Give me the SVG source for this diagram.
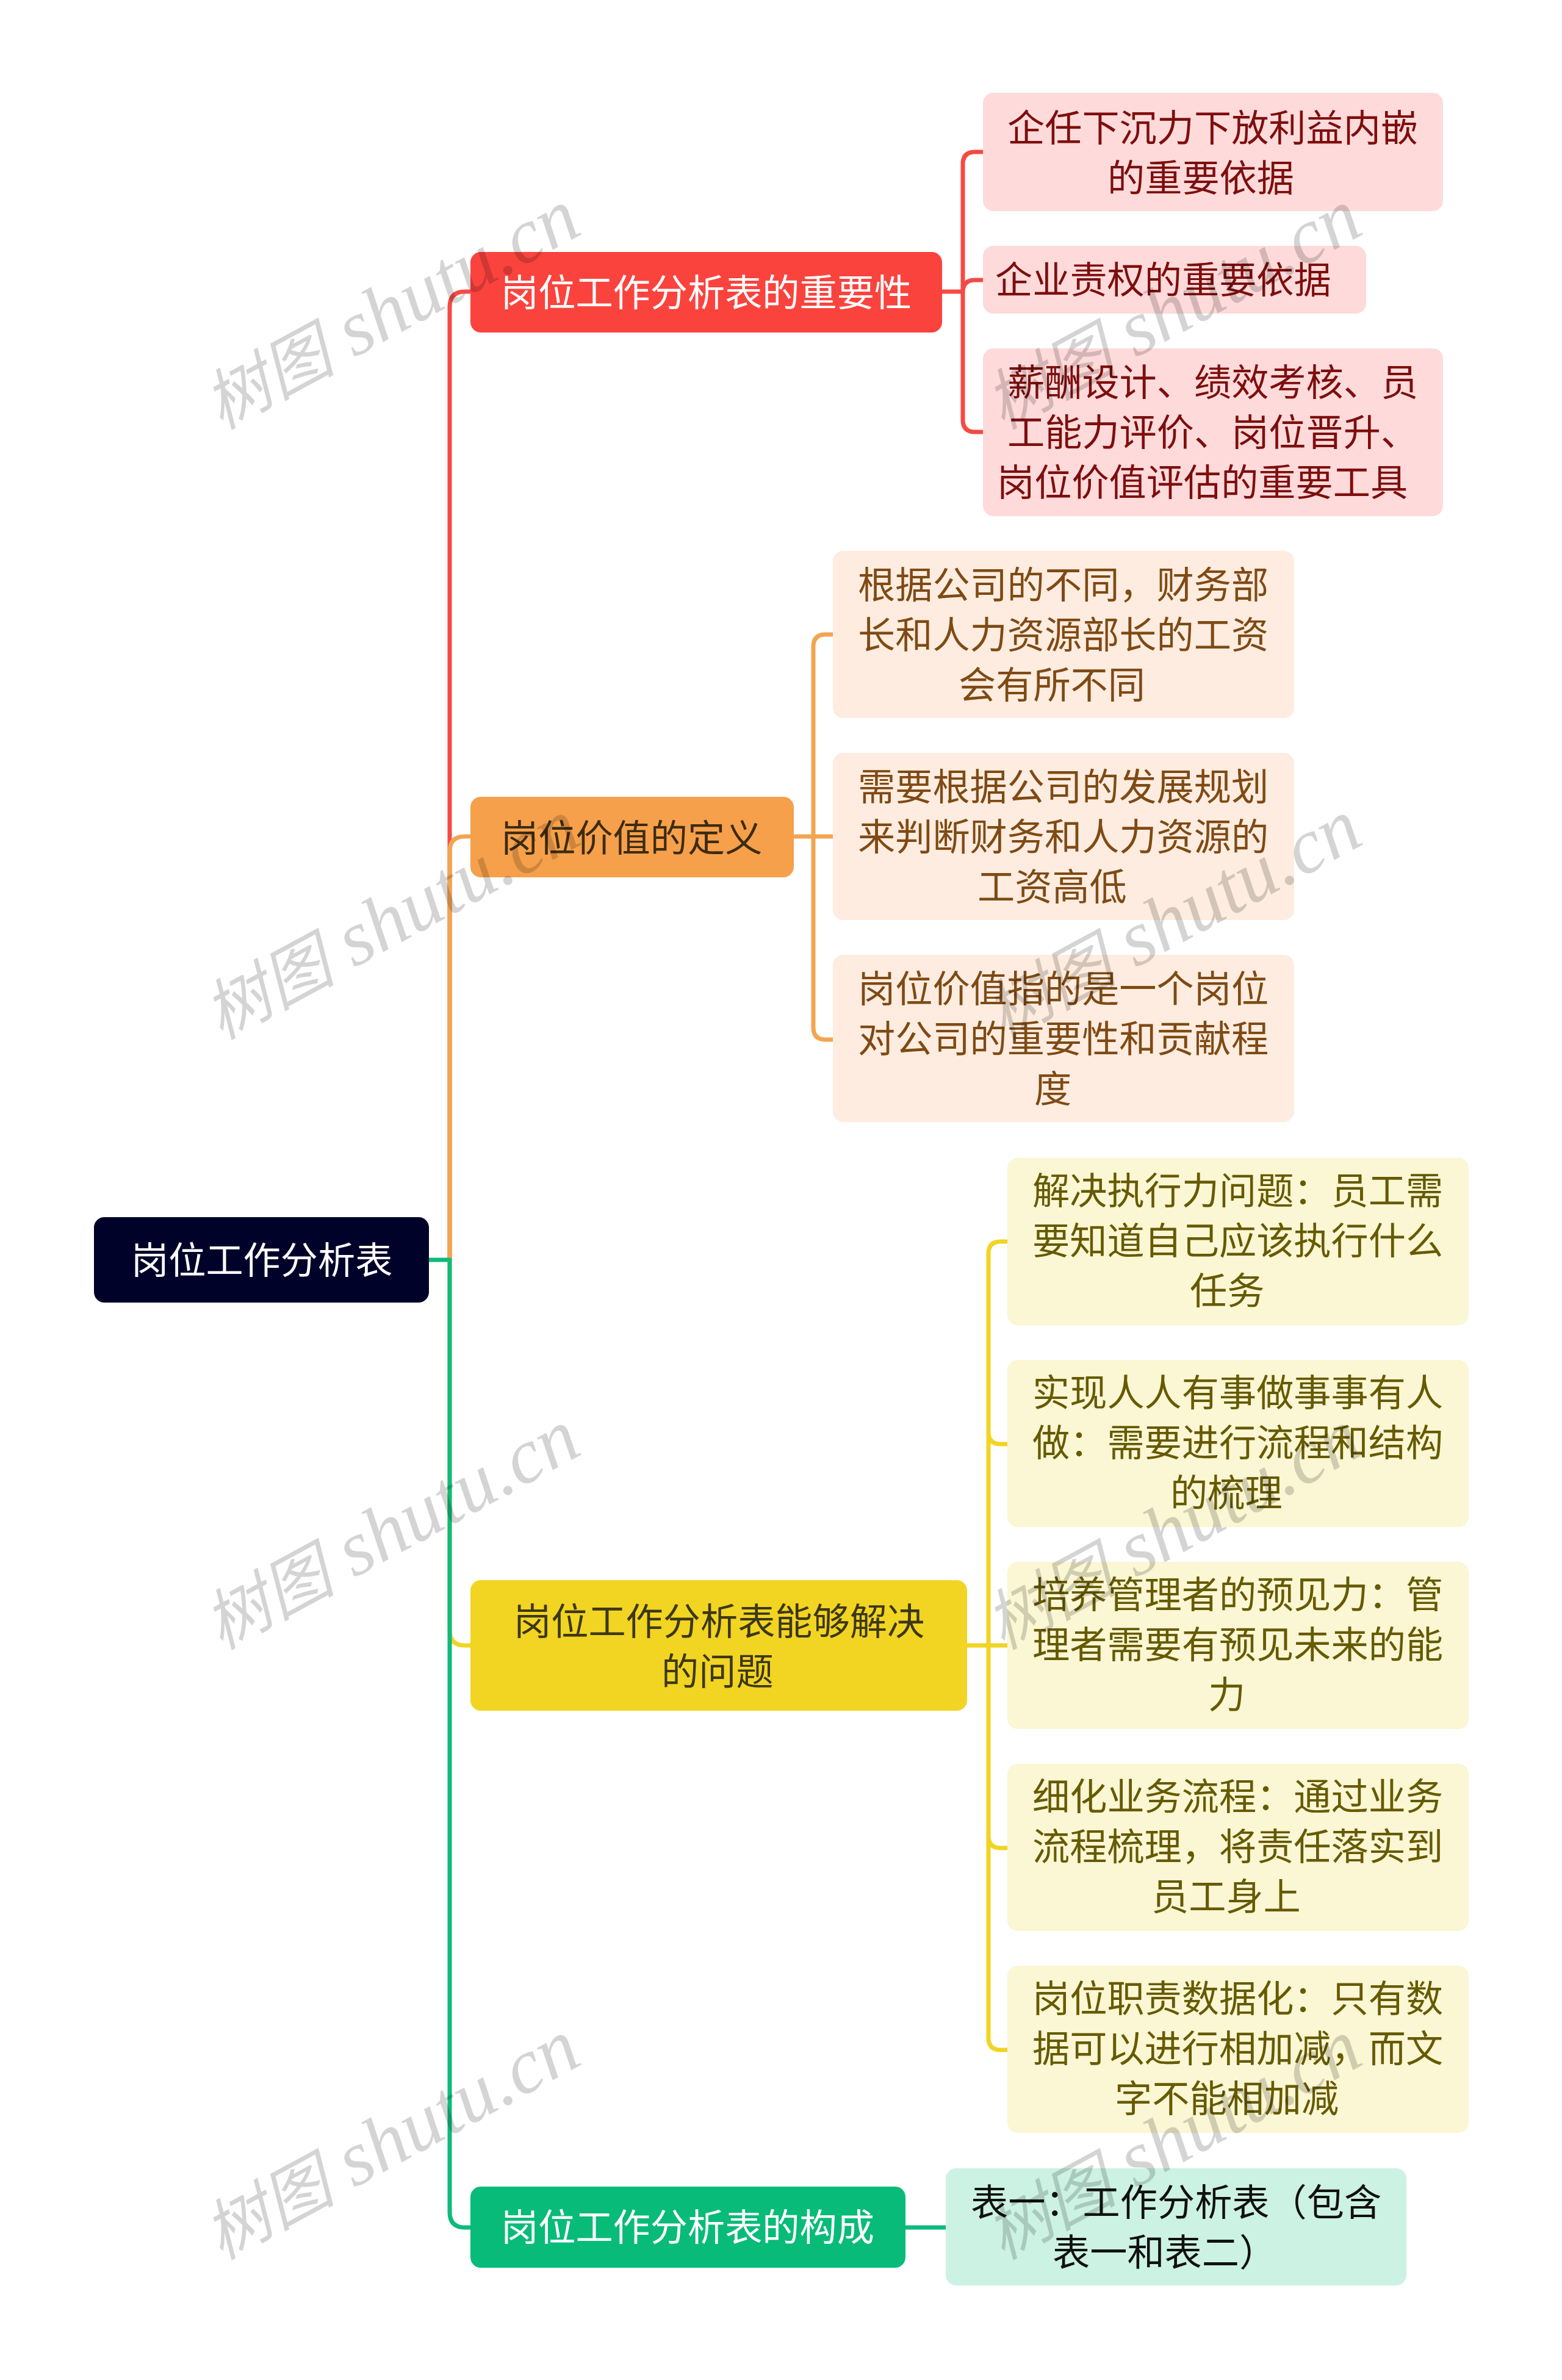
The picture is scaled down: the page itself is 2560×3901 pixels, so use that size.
<svg xmlns="http://www.w3.org/2000/svg" width="2560" height="3901" viewBox="0 0 2560 3901">
<defs>
<style>
text{font-family:"Noto Sans CJK SC","Liberation Sans",sans-serif;font-size:61.2px}
.c{fill:none;stroke-width:7;stroke-linejoin:round}
.r{stroke:#f74a45}.o{stroke:#f2a550}.y{stroke:#f2d422}.g{stroke:#0eba7c}
.wm text{font-family:"Liberation Serif","Noto Sans CJK SC",serif;font-style:italic;font-size:128px;fill:#000;fill-opacity:.17}
.wm tspan{font-size:108px}
</style>
</defs>
<rect width="2560" height="3901" fill="#fff"/>
<g id="connectors">
<path class="c r" d="M737 2065V503Q737 478 762 478H771"/>
<path class="c o" d="M737 2065V1396Q737 1371 762 1371H771"/>
<path class="c y" d="M737 2065V2672Q737 2697 762 2697H771"/>
<path class="c g" d="M703 2065H737V3626Q737 3651 762 3651H771"/>
<path class="c r" d="M1544 478H1578M1611 249H1598Q1578 249 1578 269V688Q1578 708 1598 708H1611M1578 479Q1578 459 1598 459H1611"/>
<path class="c o" d="M1301 1371H1365M1365 1040H1353Q1333 1040 1333 1060V1684Q1333 1704 1353 1704H1365"/>
<path class="c y" d="M1585 2697H1651M1651 2035H1640Q1620 2035 1620 2055V3340Q1620 3360 1640 3360H1651M1620 2347Q1620 2367 1640 2367H1651M1620 3009Q1620 3029 1640 3029H1651"/>
<path class="c g" d="M1484 3651H1550"/>
</g>
<g id="root"><rect x="154" y="1995" width="549" height="140" rx="17" fill="#000229"/><text x="215" y="2088" fill="#fff">岗位工作分析表</text></g>
<g id="n1"><rect x="771" y="413" width="773" height="132" rx="17" fill="#fb433e"/><text x="821" y="502" fill="#fff">岗位工作分析表的重要性</text></g>
<g id="n1a"><rect x="1611" y="152" width="754" height="194" rx="17" fill="#fedada"/><text fill="#7e0e0e"><tspan x="1651" y="232">企任下沉力下放利益内嵌</tspan><tspan x="1815" y="314">的重要依据</tspan></text></g>
<g id="n1b"><rect x="1611" y="403" width="628" height="111" rx="17" fill="#fedada"/><text x="1631" y="481" fill="#7e0e0e">企业责权的重要依据</text></g>
<g id="n1c"><rect x="1611" y="571" width="754" height="275" rx="17" fill="#fedada"/><text fill="#7e0e0e"><tspan x="1651" y="649">薪酬设计、绩效考核、员</tspan><tspan x="1651" y="731">工能力评价、岗位晋升、</tspan><tspan x="1634" y="813">岗位价值评估的重要工具</tspan></text></g>
<g id="n2"><rect x="771" y="1306" width="530" height="132" rx="17" fill="#f7a04b"/><text x="821" y="1396" fill="#3d2c10">岗位价值的定义</text></g>
<g id="n2a"><rect x="1365" y="903" width="756" height="274" rx="17" fill="#fdecdf"/><text fill="#7f4a14"><tspan x="1406" y="981">根据公司的不同，财务部</tspan><tspan x="1406" y="1063">长和人力资源部长的工资</tspan><tspan x="1571" y="1145">会有所不同</tspan></text></g>
<g id="n2b"><rect x="1365" y="1234" width="756" height="274" rx="17" fill="#fdecdf"/><text fill="#7f4a14"><tspan x="1406" y="1312">需要根据公司的发展规划</tspan><tspan x="1406" y="1394">来判断财务和人力资源的</tspan><tspan x="1602" y="1476">工资高低</tspan></text></g>
<g id="n2c"><rect x="1365" y="1565" width="756" height="274" rx="17" fill="#fdecdf"/><text fill="#7f4a14"><tspan x="1406" y="1643">岗位价值指的是一个岗位</tspan><tspan x="1406" y="1725">对公司的重要性和贡献程</tspan><tspan x="1695" y="1807">度</tspan></text></g>
<g id="n3"><rect x="771" y="2590" width="814" height="214" rx="17" fill="#f2d422"/><text fill="#3c3816"><tspan x="842" y="2680">岗位工作分析表能够解决</tspan><tspan x="1084" y="2762">的问题</tspan></text></g>
<g id="n3a"><rect x="1651" y="1898" width="756" height="274" rx="17" fill="#fbf6d3"/><text fill="#665a00"><tspan x="1692" y="1974">解决执行力问题：员工需</tspan><tspan x="1692" y="2056">要知道自己应该执行什么</tspan><tspan x="1950" y="2138">任务</tspan></text></g>
<g id="n3b"><rect x="1651" y="2229" width="756" height="274" rx="17" fill="#fbf6d3"/><text fill="#665a00"><tspan x="1692" y="2305">实现人人有事做事事有人</tspan><tspan x="1692" y="2387">做：需要进行流程和结构</tspan><tspan x="1918" y="2469">的梳理</tspan></text></g>
<g id="n3c"><rect x="1651" y="2560" width="756" height="274" rx="17" fill="#fbf6d3"/><text fill="#665a00"><tspan x="1692" y="2636">培养管理者的预见力：管</tspan><tspan x="1692" y="2718">理者需要有预见未来的能</tspan><tspan x="1980" y="2800">力</tspan></text></g>
<g id="n3d"><rect x="1651" y="2891" width="756" height="274" rx="17" fill="#fbf6d3"/><text fill="#665a00"><tspan x="1692" y="2967">细化业务流程：通过业务</tspan><tspan x="1692" y="3049">流程梳理，将责任落实到</tspan><tspan x="1887" y="3131">员工身上</tspan></text></g>
<g id="n3e"><rect x="1651" y="3222" width="756" height="274" rx="17" fill="#fbf6d3"/><text fill="#665a00"><tspan x="1692" y="3298">岗位职责数据化：只有数</tspan><tspan x="1692" y="3380">据可以进行相加减，而文</tspan><tspan x="1827" y="3462">字不能相加减</tspan></text></g>
<g id="n4"><rect x="771" y="3584" width="713" height="133" rx="17" fill="#08bb79"/><text x="821" y="3673" fill="#fff">岗位工作分析表的构成</text></g>
<g id="n4a"><rect x="1550" y="3554" width="755" height="192" rx="17" fill="#ccf2e3"/><text fill="#111"><tspan x="1591" y="3632">表一：工作分析表（包含</tspan><tspan x="1725" y="3714">表一和表二）</tspan></text></g>
<g class="wm">
<text transform="translate(362 705) rotate(-28.5)"><tspan>树图</tspan> shutu.cn</text>
<text transform="translate(1643 705) rotate(-28.5)"><tspan>树图</tspan> shutu.cn</text>
<text transform="translate(362 1705) rotate(-28.5)"><tspan>树图</tspan> shutu.cn</text>
<text transform="translate(1643 1705) rotate(-28.5)"><tspan>树图</tspan> shutu.cn</text>
<text transform="translate(362 2705) rotate(-28.5)"><tspan>树图</tspan> shutu.cn</text>
<text transform="translate(1643 2705) rotate(-28.5)"><tspan>树图</tspan> shutu.cn</text>
<text transform="translate(362 3705) rotate(-28.5)"><tspan>树图</tspan> shutu.cn</text>
<text transform="translate(1643 3705) rotate(-28.5)"><tspan>树图</tspan> shutu.cn</text>
</g>
</svg>
